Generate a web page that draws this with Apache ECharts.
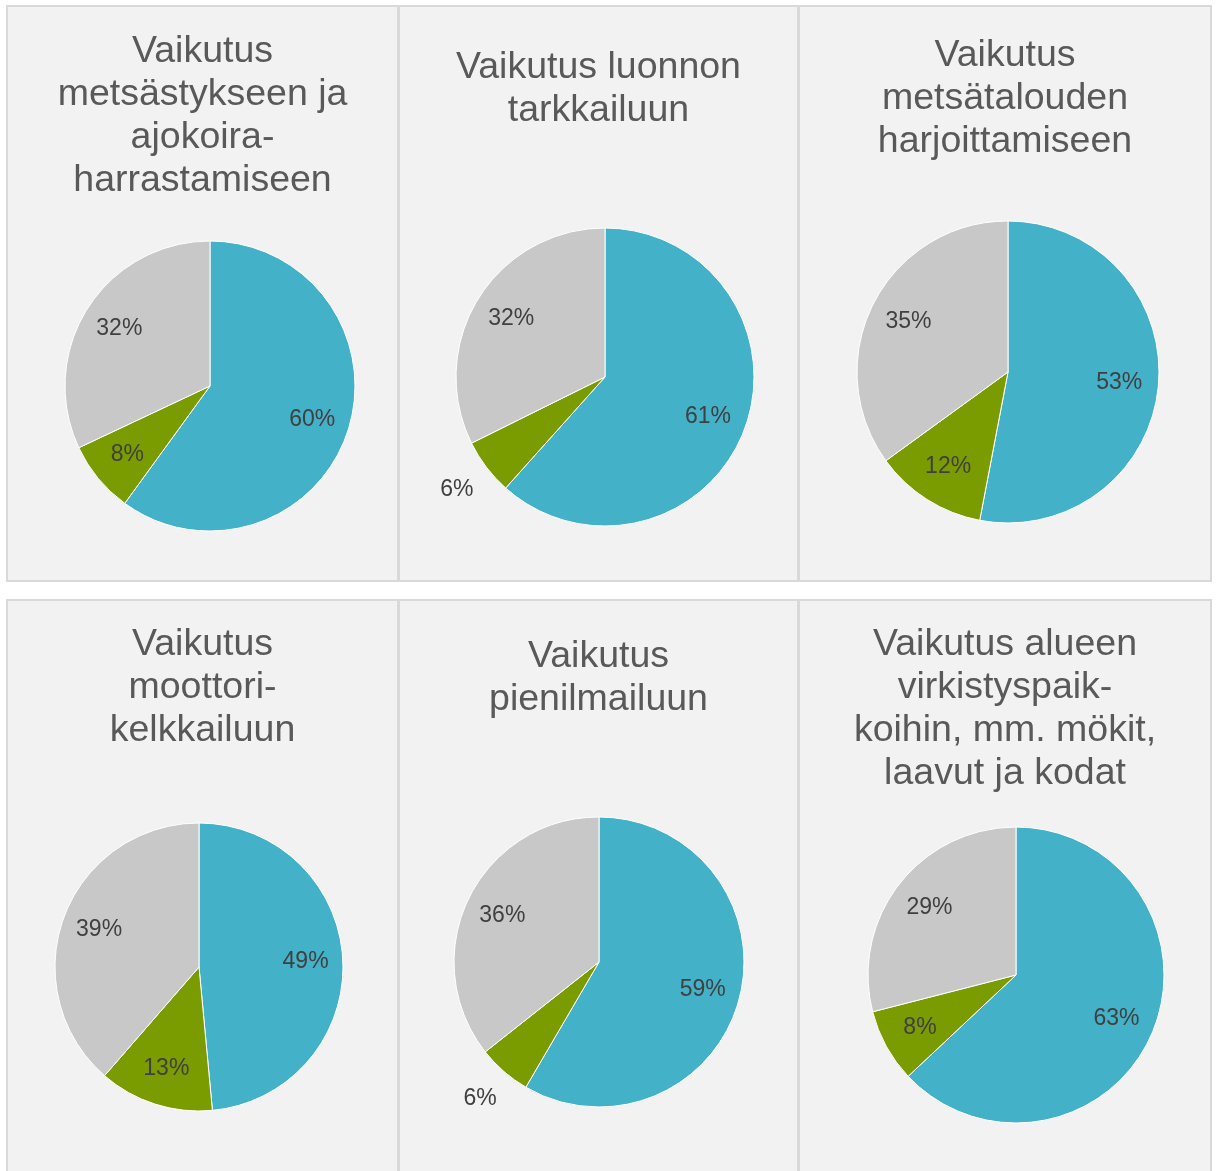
<!DOCTYPE html>
<html>
<head>
<meta charset="utf-8">
<script src="https://cdn.jsdelivr.net/npm/echarts@6/dist/echarts.min.js"></script>
<style>
  html, body { margin: 0; padding: 0; background: #fff; }
  #chart { width: 1217px; height: 1171px; }
</style>
</head>
<body>
<div id="chart"></div>
<script>
// chart data
const titles = [
  'Vaikutus\nmetsästykseen ja\najokoira-\nharrastamiseen',
  'Vaikutus luonnon\ntarkkailuun',
  'Vaikutus\nmetsätalouden\nharjoittamiseen',
  'Vaikutus\nmoottori-\nkelkkailuun',
  'Vaikutus\npienilmailuun',
  'Vaikutus alueen\nvirkistyspaik-\nkoihin, mm. mökit,\nlaavut ja kodat'
];
const sliceNames = ['Osuus 1', 'Osuus 2', 'Osuus 3'];
const blueValues = [60, 61, 53, 49, 59, 63];
const greenValues = [8, 6, 12, 13, 6, 8];
const grayValues = [32, 32, 35, 39, 36, 29];

// layout of the six panels
const panels = [
  { x: 7, y: 6, w: 391, h: 575, cx: 210, cy: 386, r: 145, titleTop: 30 },
  { x: 399, y: 6, w: 399, h: 575, cx: 605, cy: 377, r: 149, titleTop: 46 },
  { x: 799, y: 6, w: 412, h: 575, cx: 1008, cy: 372, r: 151, titleTop: 34 },
  { x: 7, y: 600, w: 391, h: 590, cx: 199, cy: 967, r: 144, titleTop: 623 },
  { x: 399, y: 600, w: 399, h: 590, cx: 599, cy: 962, r: 145, titleTop: 635 },
  { x: 799, y: 600, w: 412, h: 590, cx: 1016, cy: 975, r: 148, titleTop: 623 }
];

const colors = ['#43b1c8', '#7a9c00', '#c8c8c8'];
const labelStyle = { color: '#404040', fontSize: 23, fontFamily: 'Liberation Sans, Arial, sans-serif' };

const chart = echarts.init(document.getElementById('chart'));

const graphics = panels.map(p => ({
  type: 'rect',
  silent: true,
  z: -10,
  shape: { x: p.x, y: p.y, width: p.w, height: p.h },
  style: { fill: '#f2f2f2', stroke: '#d9d9d9', lineWidth: 2 }
}));

const titleList = panels.map((p, i) => ({
  text: titles[i],
  left: p.x + p.w / 2,
  top: p.titleTop,
  textAlign: 'center',
  padding: 0,
  textStyle: {
    color: '#595959',
    fontSize: 37.5,
    fontWeight: 'normal',
    lineHeight: 43,
    fontFamily: 'Liberation Sans, Arial, sans-serif'
  }
}));

const series = [];
panels.forEach((p, i) => {
  const vals = [blueValues[i], greenValues[i], grayValues[i]];
  const data = vals.map((v, k) => ({ name: sliceNames[k], value: v }));

  // the pie itself
  series.push({
    type: 'pie',
    silent: true,
    center: [p.cx, p.cy],
    radius: [0, p.r],
    startAngle: 90,
    clockwise: true,
    avoidLabelOverlap: false,
    label: { show: false },
    labelLine: { show: false },
    itemStyle: { borderColor: '#fff', borderWidth: 1 },
    data: data.map((d, k) => ({ ...d, itemStyle: { color: colors[k] } }))
  });

  // labels for the larger slices, placed at ~0.72 r
  series.push({
    type: 'pie',
    silent: true,
    center: [p.cx, p.cy],
    radius: [p.r * 0.44, p.r],
    startAngle: 90,
    avoidLabelOverlap: false,
    itemStyle: { color: 'transparent' },
    labelLine: { show: false },
    data: data.map(d => ({
      ...d,
      label: { show: d.value >= 7, position: 'inside', formatter: '{c}%', ...labelStyle }
    }))
  });

  // labels for the small slices, placed outside at ~1.23 r
  series.push({
    type: 'pie',
    silent: true,
    center: [p.cx, p.cy],
    radius: [p.r * 0.46, p.r * 2],
    startAngle: 90,
    avoidLabelOverlap: false,
    itemStyle: { color: 'transparent' },
    labelLine: { show: false },
    data: data.map(d => ({
      ...d,
      label: { show: d.value < 7, position: 'inside', formatter: '{c}%', ...labelStyle }
    }))
  });
});

chart.setOption({
  animation: false,
  backgroundColor: '#fff',
  graphic: graphics,
  title: titleList,
  series: series
});
</script>
</body>
</html>
